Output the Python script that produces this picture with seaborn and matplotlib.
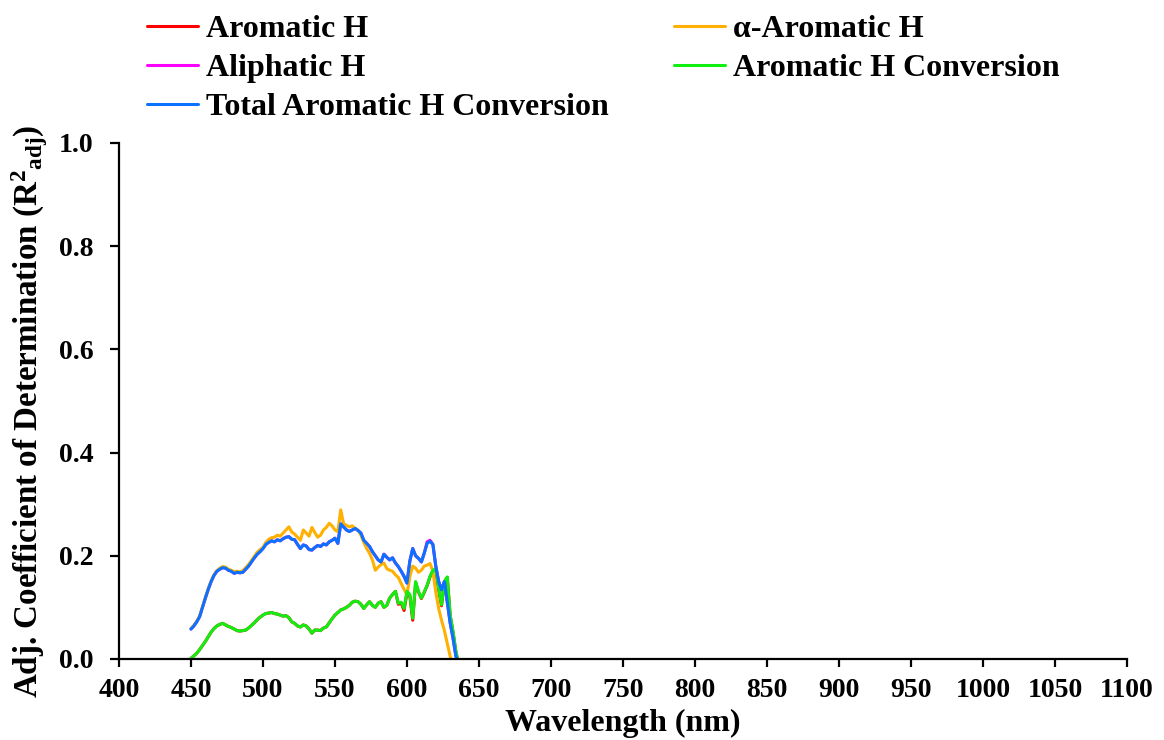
import numpy as np
import pandas as pd
import matplotlib
matplotlib.use("Agg")
import matplotlib.pyplot as plt
from matplotlib.lines import Line2D
import seaborn as sns

# Wavelength grid (nm)
wavelength = list(range(450, 638, 2))

aromatic_h = [
    0.001, 0.006, 0.011, 0.018, 0.026, 0.034, 0.043, 0.052, 0.059, 0.064,
    0.067, 0.069, 0.066, 0.063, 0.061, 0.058, 0.055, 0.054, 0.055, 0.056,
    0.060, 0.065, 0.070, 0.076, 0.081, 0.085, 0.088, 0.089, 0.090, 0.088,
    0.087, 0.085, 0.083, 0.084, 0.080, 0.072, 0.069, 0.064, 0.062, 0.066,
    0.064, 0.058, 0.050, 0.056, 0.056, 0.055, 0.060, 0.062, 0.070, 0.078,
    0.085, 0.090, 0.095, 0.097, 0.100, 0.104, 0.110, 0.112, 0.111, 0.106,
    0.098, 0.105, 0.111, 0.104, 0.100, 0.108, 0.111, 0.100, 0.104, 0.118,
    0.125, 0.131, 0.106, 0.108, 0.094, 0.128, 0.122, 0.075, 0.148, 0.130,
    0.117, 0.129, 0.142, 0.159, 0.171, 0.173, 0.134, 0.103, 0.149, 0.158,
    0.084, 0.052, 0.013, -0.010,
]

alpha_aromatic_h = [
    0.059, 0.065, 0.073, 0.083, 0.101, 0.119, 0.136, 0.151, 0.163, 0.171,
    0.176, 0.179, 0.178, 0.174, 0.172, 0.169, 0.170, 0.169, 0.171, 0.177,
    0.183, 0.191, 0.199, 0.207, 0.212, 0.216, 0.226, 0.232, 0.235, 0.236,
    0.240, 0.238, 0.244, 0.250, 0.256, 0.246, 0.242, 0.236, 0.230, 0.250,
    0.244, 0.238, 0.255, 0.245, 0.236, 0.240, 0.250, 0.255, 0.263, 0.258,
    0.250, 0.247, 0.289, 0.262, 0.259, 0.256, 0.258, 0.253, 0.250, 0.240,
    0.226, 0.214, 0.205, 0.192, 0.172, 0.178, 0.183, 0.186, 0.175, 0.172,
    0.170, 0.163, 0.158, 0.146, 0.135, 0.124, 0.160, 0.180, 0.176, 0.168,
    0.172, 0.180, 0.182, 0.185, 0.170, 0.130, 0.098, 0.075, 0.055, 0.030,
    0.005, -0.020, -0.030, -0.030,
]

aliphatic_h = [
    0.058, 0.064, 0.072, 0.082, 0.100, 0.118, 0.135, 0.150, 0.162, 0.170,
    0.174, 0.177, 0.176, 0.172, 0.170, 0.166, 0.168, 0.167, 0.168, 0.174,
    0.180, 0.188, 0.196, 0.203, 0.208, 0.214, 0.222, 0.226, 0.229, 0.227,
    0.231, 0.229, 0.233, 0.236, 0.237, 0.232, 0.231, 0.222, 0.214, 0.221,
    0.219, 0.212, 0.211, 0.216, 0.220, 0.218, 0.223, 0.221, 0.227, 0.230,
    0.234, 0.224, 0.262, 0.256, 0.250, 0.247, 0.250, 0.253, 0.249, 0.244,
    0.230, 0.224, 0.218, 0.208, 0.200, 0.192, 0.188, 0.203, 0.197, 0.192,
    0.196, 0.186, 0.179, 0.170, 0.160, 0.147, 0.190, 0.214, 0.200, 0.195,
    0.188, 0.205, 0.227, 0.230, 0.222, 0.180, 0.150, 0.134, 0.150, 0.110,
    0.070, 0.040, 0.005, -0.010,
]

aromatic_h_conversion = [
    0.001, 0.006, 0.011, 0.018, 0.026, 0.034, 0.043, 0.052, 0.059, 0.064,
    0.067, 0.069, 0.066, 0.063, 0.061, 0.058, 0.055, 0.054, 0.055, 0.056,
    0.060, 0.065, 0.070, 0.076, 0.081, 0.085, 0.088, 0.089, 0.090, 0.088,
    0.087, 0.085, 0.083, 0.084, 0.080, 0.072, 0.069, 0.064, 0.062, 0.066,
    0.064, 0.058, 0.050, 0.056, 0.056, 0.055, 0.060, 0.062, 0.070, 0.078,
    0.085, 0.090, 0.095, 0.097, 0.100, 0.104, 0.110, 0.112, 0.111, 0.106,
    0.098, 0.105, 0.111, 0.104, 0.100, 0.108, 0.111, 0.100, 0.104, 0.118,
    0.125, 0.131, 0.108, 0.110, 0.098, 0.131, 0.125, 0.079, 0.150, 0.131,
    0.118, 0.130, 0.143, 0.160, 0.172, 0.175, 0.137, 0.105, 0.150, 0.159,
    0.085, 0.053, 0.014, -0.010,
]

total_aromatic_h_conversion = [
    0.058, 0.064, 0.072, 0.082, 0.100, 0.118, 0.135, 0.150, 0.162, 0.170,
    0.174, 0.177, 0.176, 0.172, 0.170, 0.166, 0.168, 0.167, 0.168, 0.174,
    0.180, 0.188, 0.196, 0.203, 0.208, 0.214, 0.222, 0.226, 0.229, 0.227,
    0.231, 0.229, 0.233, 0.236, 0.237, 0.232, 0.231, 0.222, 0.214, 0.221,
    0.219, 0.212, 0.211, 0.216, 0.220, 0.218, 0.223, 0.221, 0.227, 0.230,
    0.234, 0.224, 0.262, 0.256, 0.250, 0.247, 0.250, 0.253, 0.249, 0.244,
    0.230, 0.224, 0.218, 0.208, 0.200, 0.192, 0.188, 0.203, 0.197, 0.192,
    0.196, 0.186, 0.179, 0.170, 0.160, 0.147, 0.190, 0.214, 0.200, 0.195,
    0.188, 0.205, 0.224, 0.228, 0.222, 0.180, 0.150, 0.134, 0.150, 0.110,
    0.070, 0.040, 0.005, -0.010,
]

series_names = ["Aromatic H", "\u03b1-Aromatic H", "Aliphatic H",
                "Aromatic H Conversion", "Total Aromatic H Conversion"]
series_values = [aromatic_h, alpha_aromatic_h, aliphatic_h,
                 aromatic_h_conversion, total_aromatic_h_conversion]
colors = {
    "Aromatic H": "#FF0000",
    "\u03b1-Aromatic H": "#FFB000",
    "Aliphatic H": "#FF00FF",
    "Aromatic H Conversion": "#11EE11",
    "Total Aromatic H Conversion": "#0A72FF",
}
# drawing order (later ones on top)
draw_order = ["Aromatic H", "Aliphatic H", "\u03b1-Aromatic H",
              "Aromatic H Conversion", "Total Aromatic H Conversion"]

x_ticks = list(range(400, 1101, 50))
y_ticks = [0.0, 0.2, 0.4, 0.6, 0.8, 1.0]

frames = [pd.DataFrame({"wavelength": wavelength, "r2": vals, "series": name})
          for name, vals in zip(series_names, series_values)]
df = pd.concat(frames, ignore_index=True)

sns.set_theme(style="white")
plt.rcParams["font.family"] = ["Liberation Serif", "DejaVu Serif"]
plt.rcParams["font.weight"] = "bold"
plt.rcParams["text.color"] = "black"
plt.rcParams["axes.labelcolor"] = "black"
plt.rcParams["mathtext.fontset"] = "custom"
plt.rcParams["mathtext.rm"] = "Liberation Serif:bold"
plt.rcParams["mathtext.bf"] = "Liberation Serif:bold"
plt.rcParams["mathtext.it"] = "Liberation Serif:bold"

fig = plt.figure(figsize=(11.64, 7.40), dpi=100)
ax = fig.add_axes([0.1022, 0.1095, 0.866, 0.6973])

sns.lineplot(data=df, x="wavelength", y="r2", hue="series",
             hue_order=draw_order, palette=colors, estimator=None,
             sort=False, linewidth=2.2, legend=False, ax=ax)

ax.set_xlim(400, 1100)
ax.set_ylim(0, 1.0)
ax.set_xticks(x_ticks)
ax.set_xticklabels([str(t) for t in x_ticks])
ax.set_yticks(y_ticks)
ax.set_yticklabels([f"{t:.1f}" for t in y_ticks])

for side in ["top", "right"]:
    ax.spines[side].set_visible(False)
for side in ["left", "bottom"]:
    ax.spines[side].set_color("black")
    ax.spines[side].set_linewidth(1.6)

ax.tick_params(axis="x", direction="out", length=6, width=1.6,
               colors="black", labelsize=20, pad=8, bottom=True)
ax.tick_params(axis="y", direction="out", length=6.5, width=1.6,
               colors="black", labelsize=20, pad=12, left=True)
for lbl in ax.get_xticklabels() + ax.get_yticklabels():
    lbl.set_fontweight("bold")

ax.set_xlabel("Wavelength (nm)", fontsize=23, fontweight="bold",
              color="black", labelpad=4)
ax.set_ylabel(r"Adj. Coefficient of Determination (R$^{2}{}_{adj}$)",
              fontsize=23.8, fontweight="bold", color="black")
ax.yaxis.set_label_coords(-0.068, 0.479)

legend_order = ["Aromatic H", "Aliphatic H", "Total Aromatic H Conversion",
                "\u03b1-Aromatic H", "Aromatic H Conversion"]
handles = [Line2D([0], [0], color=colors[n], lw=2.2) for n in legend_order]
fig.legend(handles, legend_order, loc="upper left",
           bbox_to_anchor=(147 / 1164, 1 - 15 / 740), ncol=2, frameon=False,
           prop={"family": "Liberation Serif", "weight": "bold", "size": 23},
           labelcolor="black",
           handlelength=1.6, handletextpad=0.25, columnspacing=2.05,
           labelspacing=0.3, borderpad=0, borderaxespad=0)

fig.savefig("out.png", dpi=100, facecolor="white")
